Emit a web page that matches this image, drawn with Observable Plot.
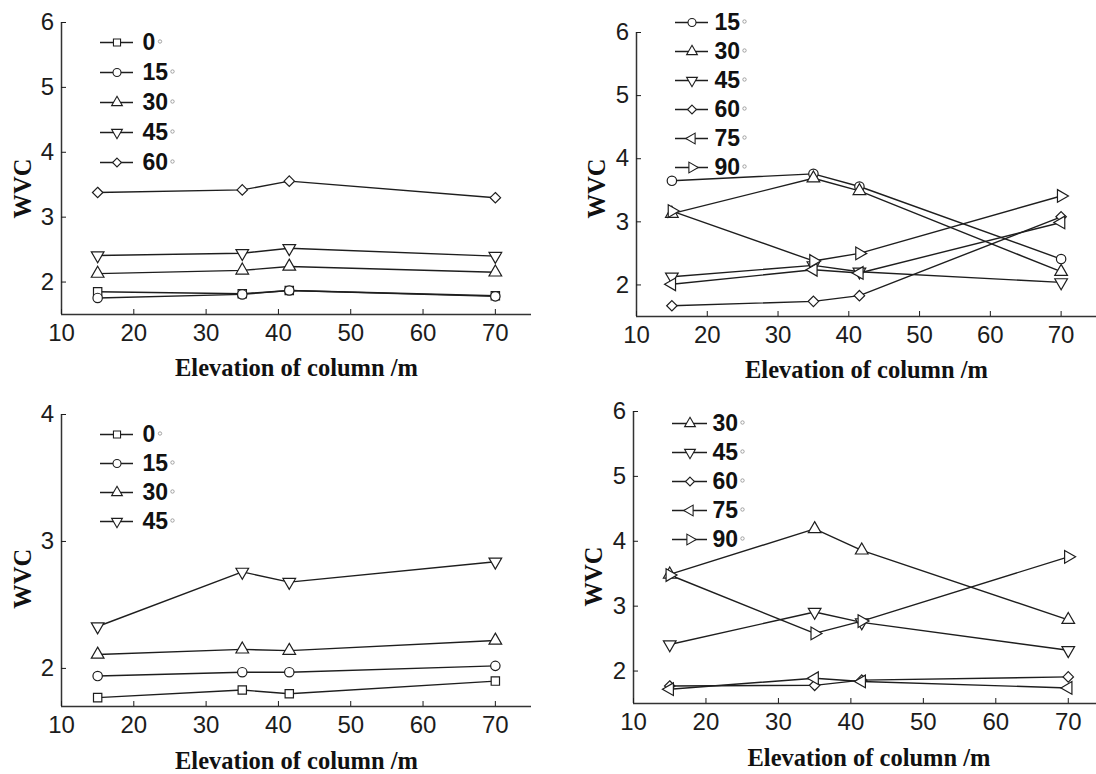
<!DOCTYPE html>
<html><head><meta charset="utf-8">
<script src="https://cdn.jsdelivr.net/npm/d3@7"></script>
<script src="https://cdn.jsdelivr.net/npm/@observablehq/plot@0.6"></script>
<style>
body{margin:0;background:#fff;overflow:hidden}
#chart{position:relative;width:1096px;height:774px;overflow:hidden;background:#fff}
#chart > svg{position:absolute;max-width:none}
</style></head><body><div id="chart"></div>
<script>
// ---- data ----
const elevation = [15, 35, 41.5, 70];
const xTicks = [10, 20, 30, 40, 50, 60, 70];
const xLabel = "Elevation of column /m";
const yLabel = "WVC";

// top-left panel
const tlSeries = ["0", "15", "30", "45", "60"];
const tlValues = [
  [1.85, 1.82, 1.87, 1.79],
  [1.755, 1.81, 1.87, 1.78],
  [2.13, 2.18, 2.24, 2.15],
  [2.41, 2.445, 2.52, 2.40],
  [3.38, 3.42, 3.555, 3.30]
];
const tlTicks = [2, 3, 4, 5, 6];

// top-right panel
const trSeries = ["15", "30", "45", "60", "75", "90"];
const trValues = [
  [3.65, 3.76, 3.56, 2.41],
  [3.13, 3.69, 3.49, 2.21],
  [2.13, 2.31, 2.21, 2.04],
  [1.67, 1.74, 1.83, 3.08],
  [2.01, 2.24, 2.19, 2.99],
  [3.17, 2.38, 2.50, 3.41]
];
const trTicks = [2, 3, 4, 5, 6];

// bottom-left panel
const blSeries = ["0", "15", "30", "45"];
const blValues = [
  [1.77, 1.83, 1.80, 1.90],
  [1.94, 1.97, 1.97, 2.02],
  [2.11, 2.15, 2.14, 2.22],
  [2.33, 2.76, 2.68, 2.84]
];
const blTicks = [2, 3, 4];

// bottom-right panel
const brSeries = ["30", "45", "60", "75", "90"];
const brValues = [
  [3.49, 4.19, 3.86, 2.79],
  [2.41, 2.91, 2.75, 2.32],
  [1.77, 1.78, 1.86, 1.91],
  [1.72, 1.89, 1.84, 1.74],
  [3.48, 2.58, 2.77, 3.76]
];
const brTicks = [2, 3, 4, 5, 6];

// ---- styles ----
const symbolOf = {"0": "square", "15": "circle", "30": "triangle", "45": "triangle", "60": "diamond2", "75": "triangle", "90": "triangle"};
const rotateOf = {"0": 0, "15": 0, "30": 0, "45": 180, "60": 0, "75": 270, "90": 90};
const sans = "'Liberation Sans', Arial, sans-serif";
const serif = "'Liberation Serif', 'Times New Roman', serif";
const ink = "#1e1e1e";
const chart = document.getElementById("chart");

function rowsOf(series, values) {
  return series.flatMap((s, i) => elevation.map((x, j) => ({series: s, x, y: values[i][j]})));
}

function panel(c) {
  const rows = rowsOf(c.series, c.values);
  const p = Plot.plot({
    width: c.width, height: c.height,
    marginTop: c.mt, marginBottom: c.mb, marginLeft: c.ml, marginRight: c.mr,
    style: {fontFamily: sans, fontSize: "24px", color: "#1c1c1c", background: "transparent", overflow: "visible"},
    x: {domain: [10, 75]},
    y: {domain: c.yDomain},
    symbol: {type: "identity"},
    marks: [
      Plot.ruleX([10], {stroke: "#333", strokeWidth: 1.5}),
      Plot.ruleY([c.yDomain[0]], {stroke: "#333", strokeWidth: 1.5}),
      Plot.axisX({ticks: xTicks, tickSize: -5, tickPadding: 14.8, label: null, fontSize: 24,
        tickFormat: d => String(d)}),
      Plot.axisY({ticks: c.yTicks, tickSize: -5, tickPadding: 12.4, label: null, fontSize: 24,
        tickFormat: d => String(d)}),
      Plot.line(rows, {x: "x", y: "y", z: "series", stroke: ink, strokeWidth: 1.4}),
      Plot.dot(rows, {x: "x", y: "y", symbol: d => symbolOf[d.series], rotate: d => rotateOf[d.series],
        r: 4.7, fill: "white", stroke: ink, strokeWidth: 1.2}),
      Plot.text([xLabel], {text: d => d, frameAnchor: "bottom", dy: c.xlDy, lineAnchor: "bottom",
        textAnchor: "middle", fontFamily: serif, fontWeight: "bold", fontSize: 24.5, fill: "#111"}),
      Plot.text([yLabel], {text: d => d, frameAnchor: "left", rotate: -90, dx: c.ylDx, dy: c.ylDy,
        textAnchor: "middle", lineAnchor: "middle",
        fontFamily: serif, fontWeight: "bold", fontSize: 24.5, fill: "#111"})
    ]
  });
  p.style.left = c.left + "px";
  p.style.top = c.top + "px";
  chart.appendChild(p);
}

function legend(c) {
  const ml = 10, mt = 16, mr = 60, mb = 16;
  const len = c.x2 - c.x1;
  const p = Plot.plot({
    width: ml + len + mr, height: mt + mb + c.spacing * (c.series.length - 1),
    marginLeft: ml, marginRight: mr, marginTop: mt, marginBottom: mb,
    style: {fontFamily: sans, background: "transparent", overflow: "visible"},
    x: {domain: [0, 1], axis: null},
    y: {type: "point", domain: c.series, padding: 0, axis: null},
    symbol: {type: "identity"},
    marks: [
      Plot.ruleY(c.series, {y: d => d, x1: 0, x2: 1, stroke: ink, strokeWidth: 1.3}),
      Plot.dot(c.series, {x: 0.5, y: d => d, symbol: d => symbolOf[d], rotate: d => rotateOf[d],
        r: 4, fill: "white", stroke: ink, strokeWidth: 1.1}),
      Plot.text(c.series, {x: 1, y: d => d, text: d => d, dx: c.gap, textAnchor: "start",
        fontWeight: "bold", fontSize: 23, fill: "#111"}),
      Plot.dot(c.series.filter(s => s.length === 1), {x: 1, y: d => d, dx: c.gap + 17.5, dy: -1,
        r: 1.7, fill: "none", stroke: "#999", strokeWidth: 0.9}),
      Plot.dot(c.series.filter(s => s.length === 2), {x: 1, y: d => d, dx: c.gap + 30, dy: -1,
        r: 1.7, fill: "none", stroke: "#999", strokeWidth: 0.9})
    ]
  });
  p.style.left = (c.x1 - ml) + "px";
  p.style.top = (c.y1 - mt) + "px";
  chart.appendChild(p);
}

panel({series: tlSeries, values: tlValues, yDomain: [1.5, 6], yTicks: tlTicks,
  left: 0, top: 0, width: 548, height: 390, mt: 22, mb: 76, ml: 61, mr: 17,
  xlDy: 61, ylDx: -38.3, ylDy: 20});
panel({series: trSeries, values: trValues, yDomain: [1.5, 6], yTicks: trTicks,
  left: 548, top: 0, width: 548, height: 390, mt: 32, mb: 74, ml: 88, mr: 0,
  xlDy: 61, ylDx: -39.2, ylDy: 14});
panel({series: blSeries, values: blValues, yDomain: [1.7, 4], yTicks: blTicks,
  left: 0, top: 390, width: 548, height: 384, mt: 24, mb: 68, ml: 61, mr: 17,
  xlDy: 62, ylDx: -38.3, ylDy: 18.3});
panel({series: brSeries, values: brValues, yDomain: [1.5, 6], yTicks: brTicks,
  left: 548, top: 390, width: 556, height: 384, mt: 21, mb: 71, ml: 85, mr: 0,
  xlDy: 62, ylDx: -39.6, ylDy: 19});

legend({series: tlSeries, x1: 100, x2: 133, y1: 41.7, spacing: 30, gap: 9});
legend({series: trSeries, x1: 675, x2: 708, y1: 21, spacing: 29.2, gap: 6});
legend({series: blSeries, x1: 100, x2: 133, y1: 433.3, spacing: 29.7, gap: 9});
legend({series: brSeries, x1: 672, x2: 707, y1: 422.3, spacing: 29.4, gap: 5});
</script></body></html>
